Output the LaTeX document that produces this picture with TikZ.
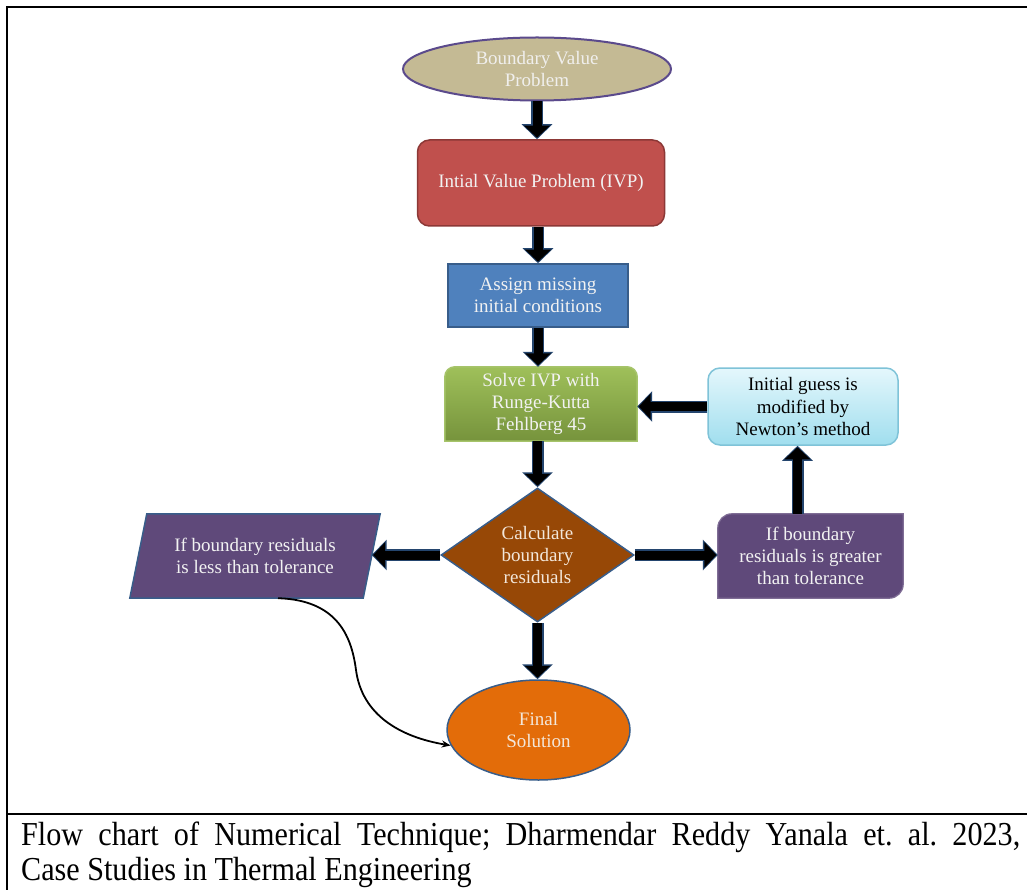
\documentclass[tikz,border=0pt]{standalone}
\usepackage{fontspec}
\setmainfont{Liberation Serif}
\newfontfamily\capfont[FakeStretch=0.9]{Liberation Serif}
\usetikzlibrary{shapes.geometric,arrows.meta,backgrounds,calc}
\definecolor{tanfill}{HTML}{C4BA94}
\definecolor{tanedge}{HTML}{5B4A8C}
\definecolor{redfill}{HTML}{C0504D}
\definecolor{rededge}{HTML}{8C3836}
\definecolor{bluefill}{HTML}{4F81BD}
\definecolor{blueedge}{HTML}{385D8A}
\definecolor{greentop}{HTML}{9FC05A}
\definecolor{greenbot}{HTML}{76933C}
\definecolor{greenedge}{HTML}{A6C46A}
\definecolor{cyantop}{HTML}{E4F7FC}
\definecolor{cyanbot}{HTML}{A0DEEE}
\definecolor{cyanedge}{HTML}{7FC3D8}
\definecolor{brownfill}{HTML}{974806}
\definecolor{purpfill}{HTML}{5F497A}
\definecolor{orangefill}{HTML}{E36C09}
\definecolor{arrowedge}{HTML}{24456E}
\definecolor{lighttext}{HTML}{F2F2F2}
\tikzset{
  txt/.style={inner sep=0pt, align=center, font=\fontsize{19}{22}\selectfont, text=lighttext},
  barrow/.style={draw=black, line width=9pt, -{Triangle[width=25pt,length=12pt]}, shorten >=1.5pt,
    preaction={draw=arrowedge, line width=12pt, -{Triangle[width=30pt,length=15pt]}, shorten >=0pt}},
  thinarrow/.style={draw=black, line width=1.8pt, -{Stealth[length=9pt,width=7pt]}},
  frame/.style={draw=black, line width=2.8pt},
  captxt/.style={anchor=base west, inner sep=0pt, font=\capfont\fontsize{33.5}{35}\selectfont\frenchspacing}
}
\begin{document}
\begin{tikzpicture}[x=1pt,y=1pt]
\useasboundingbox (0,0) rectangle (1027,-890);

% nodes
\node[txt, ellipse, fill=tanfill, draw=tanedge, line width=2pt, minimum width=268pt, minimum height=63pt, text=lighttext!95!tanfill] (bvp) at (537,-69) {Boundary Value\\Problem};
\node[txt, rectangle, rounded corners=12pt, fill=redfill, draw=rededge, line width=1.5pt, minimum width=247pt, minimum height=86pt] (ivp) at (541,-183) {Intial Value Problem (IVP)};
\node[txt, rectangle, fill=bluefill, draw=blueedge, line width=1.5pt, minimum width=180pt, minimum height=63pt] (assign) at (538,-295.5) {Assign missing\\initial conditions};
\node[txt, rectangle, minimum width=192pt, minimum height=74pt] (solve) at (541,-404) {Solve IVP with\\Runge-Kutta\\Fehlberg 45};
\node[txt, rectangle, rounded corners=12pt, top color=cyantop, bottom color=cyanbot, draw=cyanedge, line width=1.5pt, minimum width=190pt, minimum height=77pt, text=black] (newton) at (803,-406.5) {Initial guess is\\modified by\\Newton’s method};
\node[txt, diamond, fill=brownfill, draw=blueedge, line width=1.5pt, minimum width=193pt, minimum height=134pt, aspect=1.44, text=lighttext!90!orange] (dia) at (537.5,-555) {Calculate\\boundary\\residuals};
\node[txt, rectangle, minimum width=250pt, minimum height=84pt] (par) at (255,-556) {If boundary residuals\\is less than tolerance};
\node[txt, rectangle, minimum width=185pt, minimum height=84pt] (greater) at (810.5,-556) {If boundary\\residuals is greater\\than tolerance};
\node[txt, ellipse, fill=orangefill, draw=blueedge, line width=1.5pt, minimum width=183pt, minimum height=100pt, text=lighttext!90!orange] (final) at (538.5,-730) {Final\\Solution};

\node[captxt] (cap1) at (21,-845) {\makebox[999pt][s]{Flow chart of Numerical Technique; Dharmendar Reddy Yanala et. al. 2023,}};
\node[captxt] (cap2) at (21,-880) {Case Studies in Thermal Engineering};

\coordinate (parR) at ([xshift=-8.5pt]par.east);
\coordinate (parB) at ([xshift=23pt]par.south);
\coordinate (gtop) at ([xshift=-13pt]greater.north);

\begin{scope}[on background layer]
  \fill[white] (0,0) rectangle (1027,-890);
  \shadedraw[top color=greentop, bottom color=greenbot, draw=greenedge, line width=1.5pt]
    (solve.south west) -- ([yshift=-10pt]solve.north west) arc[start angle=180,end angle=90,radius=10pt]
    -- ([xshift=-10pt]solve.north east) arc[start angle=90,end angle=0,radius=10pt] -- (solve.south east) -- cycle;
  \filldraw[fill=purpfill, draw=blueedge, line width=1.5pt]
    (par.south west) -- ([xshift=-17pt]par.south east) -- (par.north east) -- ([xshift=17pt]par.north west) -- cycle;
  \filldraw[fill=purpfill, draw=purpfill!80!white, line width=1.2pt]
    (greater.north east) -- ([yshift=14pt]greater.south east) arc[start angle=0,end angle=-90,radius=14pt]
    -- (greater.south west) -- ([yshift=-14pt]greater.north west) arc[start angle=180,end angle=90,radius=14pt] -- cycle;
\end{scope}

% frame
\draw[frame] (7,-890) -- (7,-7) -- (1027,-7);
\draw[frame, line width=2.4pt] (7,-814) -- (1027,-814);

% connectors
\draw[barrow] (bvp.south) -- (bvp.south |- ivp.north);
\draw[barrow] (assign.north |- ivp.south) -- (assign.north);
\draw[barrow] (assign.south) -- (assign.south |- solve.north);
\draw[barrow] (dia.north |- solve.south) -- (dia.north);
\draw[barrow] (dia.south) -- (dia.south |- final.north);
\draw[barrow] (newton.west) -- (newton.west -| solve.east);
\draw[barrow] (dia.west) -- (dia.west -| parR);
\draw[barrow] (dia.east) -- (dia.east -| greater.west);
\draw[barrow] (gtop) -- (gtop |- newton.south);
\draw[thinarrow] (parB) .. controls (340,-600) and (352,-640) .. (356,-670)
  .. controls (362,-715) and (400,-737) .. (final.190);
\end{tikzpicture}
\end{document}
